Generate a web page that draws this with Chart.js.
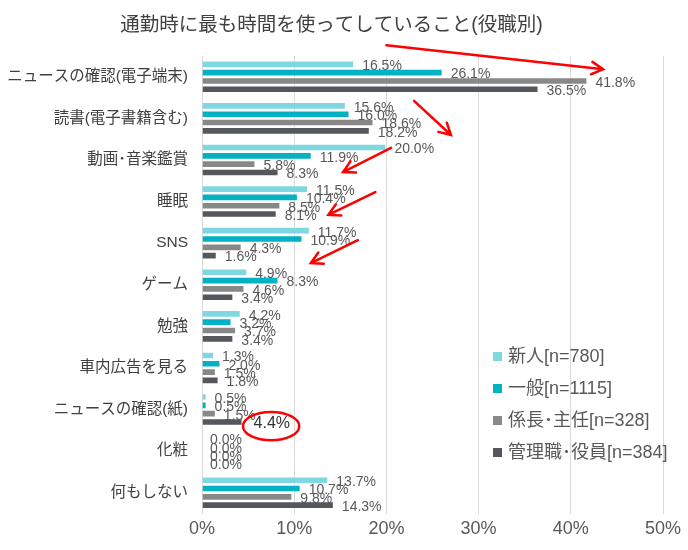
<!DOCTYPE html>
<html lang="ja">
<head>
<meta charset="UTF-8">
<title>通勤時に最も時間を使ってしていること(役職別)</title>
<script src="https://cdn.jsdelivr.net/npm/chart.js@4.4.1/dist/chart.umd.min.js"></script>
<style>
  html, body { margin: 0; padding: 0; background: #ffffff; }
  #wrap { width: 688px; height: 550px; }
</style>
</head>
<body>
<div id="wrap"><canvas id="commuteChart" width="688" height="550"></canvas></div>
<script>
// データ
const categories = [
  "ニュースの確認(電子端末)",
  "読書(電子書籍含む)",
  "動画･音楽鑑賞",
  "睡眠",
  "SNS",
  "ゲーム",
  "勉強",
  "車内広告を見る",
  "ニュースの確認(紙)",
  "化粧",
  "何もしない",
];
const seriesNames = ["新人[n=780]", "一般[n=1115]", "係長･主任[n=328]", "管理職･役員[n=384]"];
const shinjin = [16.5, 15.6, 20.0, 11.5, 11.7, 4.9, 4.2, 1.3, 0.5, 0.0, 13.7];
const ippan = [26.1, 16.0, 11.9, 10.4, 10.9, 8.3, 3.2, 2.0, 0.5, 0.0, 10.7];
const kakaricho = [41.8, 18.6, 5.8, 8.5, 4.3, 4.6, 3.7, 1.5, 1.5, 0.0, 9.8];
const kanrishoku = [36.5, 18.2, 8.3, 8.1, 1.6, 3.4, 3.4, 1.8, 4.4, 0.0, 14.3];
const xTicks = [0, 10, 20, 30, 40, 50];

// 赤い矢印と丸 (値 / カテゴリ番号の座標)
const arrows = [
  { from: [20.0, -0.76], to: [43.5, -0.18] },
  { from: [23.0, 0.58], to: [27.0, 1.40] },
  { from: [20.5, 1.71], to: [15.3, 2.29] },
  { from: [18.8, 2.77], to: [13.7, 3.32] },
  { from: [16.9, 3.93], to: [11.8, 4.48] },
];
const circled = { datasetIndex: 3, index: 8 };

const FONT = '"Liberation Sans", Arial, "Noto Sans CJK JP", sans-serif';
const colors = ["#7fd8e0", "#00b2c2", "#888888", "#54575b"];

// ラベル・注釈・凡例を描くプラグイン
const extrasPlugin = {
  id: "extras",
  afterDatasetsDraw(chart) {
    const ctx = chart.ctx;
    const xs = chart.scales.x;
    const ys = chart.scales.y;
    const area = chart.chartArea;

    // 値ラベル
    ctx.save();
    ctx.textBaseline = "middle";
    ctx.textAlign = "left";
    chart.data.datasets.forEach((ds, di) => {
      chart.getDatasetMeta(di).data.forEach((bar, i) => {
        const isCircled = di === circled.datasetIndex && i === circled.index;
        ctx.font = (isCircled ? "16px " : "14px ") + FONT;
        ctx.fillStyle = isCircled ? "#333333" : "#595959";
        ctx.fillText(ds.data[i].toFixed(1) + "%", bar.x + (isCircled ? 11 : 8), bar.y + 2);
      });
    });

    // 矢印
    ctx.strokeStyle = "#ff0000";
    ctx.lineWidth = 2.5;
    ctx.lineCap = "round";
    arrows.forEach((a) => {
      const x1 = xs.getPixelForValue(a.from[0]);
      const y1 = ys.getPixelForValue(a.from[1]);
      const x2 = xs.getPixelForValue(a.to[0]);
      const y2 = ys.getPixelForValue(a.to[1]);
      const ang = Math.atan2(y2 - y1, x2 - x1);
      const head = 13;
      ctx.beginPath();
      ctx.moveTo(x1, y1);
      ctx.lineTo(x2, y2);
      ctx.moveTo(x2 - head * Math.cos(ang - 0.5), y2 - head * Math.sin(ang - 0.5));
      ctx.lineTo(x2, y2);
      ctx.lineTo(x2 - head * Math.cos(ang + 0.5), y2 - head * Math.sin(ang + 0.5));
      ctx.stroke();
    });

    // 4.4% の丸
    const cx = xs.getPixelForValue(7.5);
    const cy = ys.getPixelForValue(8.4);
    const rx = xs.getPixelForValue(3.05) - xs.getPixelForValue(0);
    const ry = ys.getPixelForValue(0.34) - ys.getPixelForValue(0);
    ctx.beginPath();
    ctx.ellipse(cx, cy, rx, ry, 0, 0, Math.PI * 2);
    ctx.stroke();

    // 凡例 (グラフ内右下)
    ctx.font = "18px " + FONT;
    ctx.textBaseline = "middle";
    chart.data.datasets.forEach((ds, di) => {
      const lx = area.right - 170;
      const ly = area.bottom - 157 + di * 32;
      ctx.fillStyle = ds.backgroundColor;
      ctx.fillRect(lx, ly - 4.5, 9, 9);
      ctx.fillStyle = "#595959";
      ctx.fillText(ds.label, lx + 15, ly + 1);
    });
    ctx.restore();
  },
};

function makeDataset(label, values, color) {
  return {
    label: label,
    data: values,
    backgroundColor: color,
    borderColor: "rgba(255,255,255,0.45)",
    borderWidth: 1,
    categoryPercentage: 0.8,
    barPercentage: 0.92,
  };
}

new Chart(document.getElementById("commuteChart"), {
  type: "bar",
  data: {
    labels: categories,
    datasets: [
      makeDataset(seriesNames[0], shinjin, colors[0]),
      makeDataset(seriesNames[1], ippan, colors[1]),
      makeDataset(seriesNames[2], kakaricho, colors[2]),
      makeDataset(seriesNames[3], kanrishoku, colors[3]),
    ],
  },
  options: {
    indexAxis: "y",
    responsive: false,
    animation: false,
    layout: { padding: { left: 0, right: 25, top: 0, bottom: 0 } },
    plugins: {
      legend: { display: false },
      tooltip: { enabled: false },
      title: {
        display: true,
        text: "通勤時に最も時間を使ってしていること(役職別)",
        color: "#404040",
        font: { family: FONT, size: 19.5, weight: "normal" },
        padding: { top: 14, bottom: 18.6 },
      },
    },
    scales: {
      x: {
        min: 0,
        max: 50,
        afterBuildTicks(scale) {
          scale.ticks = xTicks.map((v) => ({ value: v }));
        },
        afterFit(scale) {
          scale.height = 36.5;
        },
        grid: { color: "#d9d9d9", lineWidth: 1, drawTicks: false },
        border: { display: false },
        ticks: {
          color: "#595959",
          padding: 5,
          font: { family: FONT, size: 18 },
          callback: (v) => v + "%",
        },
      },
      y: {
        afterFit(scale) {
          scale.width = 202;
        },
        grid: { display: false, drawTicks: false },
        border: { display: false },
        ticks: {
          color: "#404040",
          padding: 14,
          font: { family: FONT, size: 15.5 },
        },
      },
    },
  },
  plugins: [extrasPlugin],
});
</script>
</body>
</html>
